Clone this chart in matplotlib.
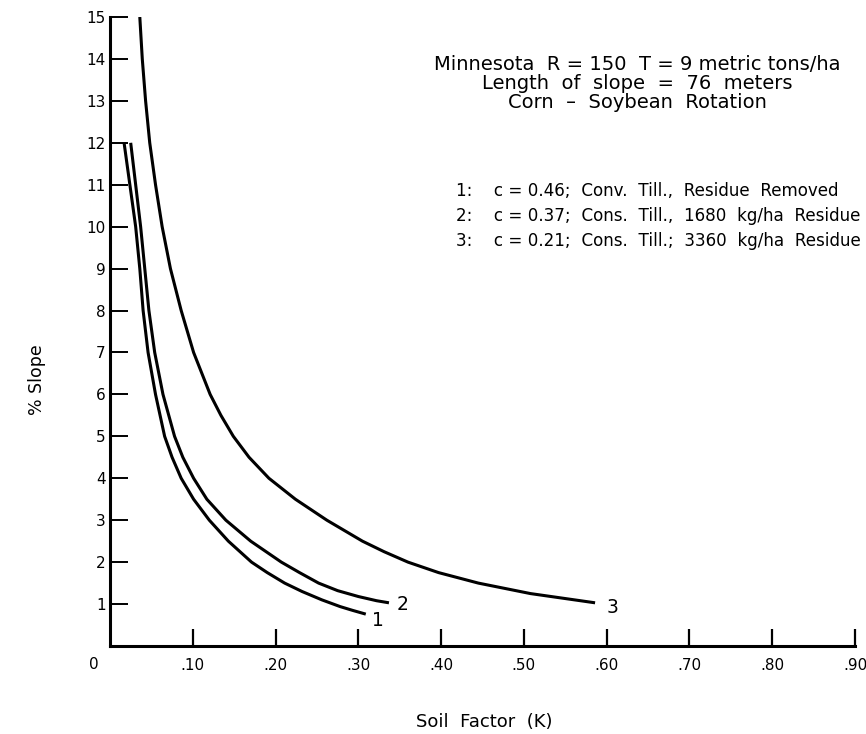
import matplotlib
matplotlib.use("Agg")
import matplotlib.pyplot as plt

plt.rcParams['font.family'] = ['DejaVu Sans']

# Curve data (Soil factor K, % slope)
k1 = [0.017, 0.024, 0.031, 0.036, 0.040, 0.046, 0.055, 0.066, 0.075, 0.086, 0.101, 0.120, 0.143, 0.171, 0.190, 0.211, 0.232, 0.256, 0.278, 0.293, 0.309]
s1 = [12.0, 11.0, 10.0, 9.0, 8.0, 7.0, 6.0, 5.0, 4.5, 4.0, 3.5, 3.0, 2.5, 2.0, 1.75, 1.5, 1.3, 1.1, 0.94, 0.85, 0.76]

k2 = [0.025, 0.031, 0.037, 0.042, 0.047, 0.054, 0.064, 0.078, 0.088, 0.101, 0.117, 0.140, 0.170, 0.207, 0.229, 0.252, 0.275, 0.300, 0.322, 0.337]
s2 = [12.0, 11.0, 10.0, 9.0, 8.0, 7.0, 6.0, 5.0, 4.5, 4.0, 3.5, 3.0, 2.5, 2.0, 1.75, 1.5, 1.32, 1.18, 1.08, 1.03]

k3 = [0.036, 0.039, 0.043, 0.048, 0.055, 0.063, 0.073, 0.086, 0.101, 0.121, 0.134, 0.149, 0.168, 0.192, 0.224, 0.262, 0.305, 0.331, 0.360, 0.397, 0.445, 0.508, 0.586]
s3 = [15.0, 14.0, 13.0, 12.0, 11.0, 10.0, 9.0, 8.0, 7.0, 6.0, 5.5, 5.0, 4.5, 4.0, 3.5, 3.0, 2.5, 2.25, 2.0, 1.75, 1.5, 1.25, 1.03]

curve_labels = ["1", "2", "3"]
label_pos = [(0.324, 0.62), (0.353, 0.98), (0.607, 0.93)]

x_ticks = [0.10, 0.20, 0.30, 0.40, 0.50, 0.60, 0.70, 0.80, 0.90]
x_ticklabels = [".10", ".20", ".30", ".40", ".50", ".60", ".70", ".80", ".90"]
y_ticks = list(range(1, 16))

title_lines = ["Minnesota  R = 150  T = 9 metric tons/ha",
               "Length  of  slope  =  76  meters",
               "Corn  \u2013  Soybean  Rotation"]
legend_lines = ["1:    c = 0.46;  Conv.  Till.,  Residue  Removed",
                "2:    c = 0.37;  Cons.  Till.,  1680  kg/ha  Residue",
                "3:    c = 0.21;  Cons.  Till.;  3360  kg/ha  Residue"]

W, H = 866, 734
fig = plt.figure(figsize=(W / 100, H / 100), dpi=100)
ax = fig.add_axes([110 / W, (H - 646) / H, (855 - 110) / W, (646 - 17) / H])

for kk, ss in [(k1, s1), (k2, s2), (k3, s3)]:
    ax.plot(kk, ss, color='black', lw=2.2, solid_capstyle='butt', solid_joinstyle='round')

for lab, (px, py) in zip(curve_labels, label_pos):
    ax.text(px, py, lab, fontsize=13.5, ha='center', va='center')

ax.set_xlim(0, 0.9)
ax.set_ylim(0, 15)
for s in ['top', 'right']:
    ax.spines[s].set_visible(False)
for s in ['left', 'bottom']:
    ax.spines[s].set_linewidth(2.2)

ax.set_xticks(x_ticks)
ax.set_xticklabels(x_ticklabels, fontsize=11)
ax.set_yticks(y_ticks)
ax.set_yticklabels([str(v) for v in y_ticks], fontsize=11)
ax.tick_params(axis='x', direction='in', length=12.5, width=1.6, pad=9)
ax.tick_params(axis='y', direction='in', length=13, width=1.4, pad=3)

ax.text(-0.019, -0.45, "0", fontsize=11, ha='center', va='center')

fig.text(484 / W, 1 - 722 / H, "Soil  Factor  (K)", fontsize=13, ha='center', va='center')
fig.text(37 / W, 1 - 380 / H, "% Slope", fontsize=12.5, ha='center', va='center', rotation=90)

for i, t in enumerate(title_lines):
    fig.text(637 / W, 1 - (64 + 19.5 * i) / H, t, fontsize=14, ha='center', va='center')
for i, t in enumerate(legend_lines):
    fig.text(456 / W, 1 - (191 + 25 * i) / H, t, fontsize=12.1, ha='left', va='center')

fig.savefig("out.png", dpi=100)
